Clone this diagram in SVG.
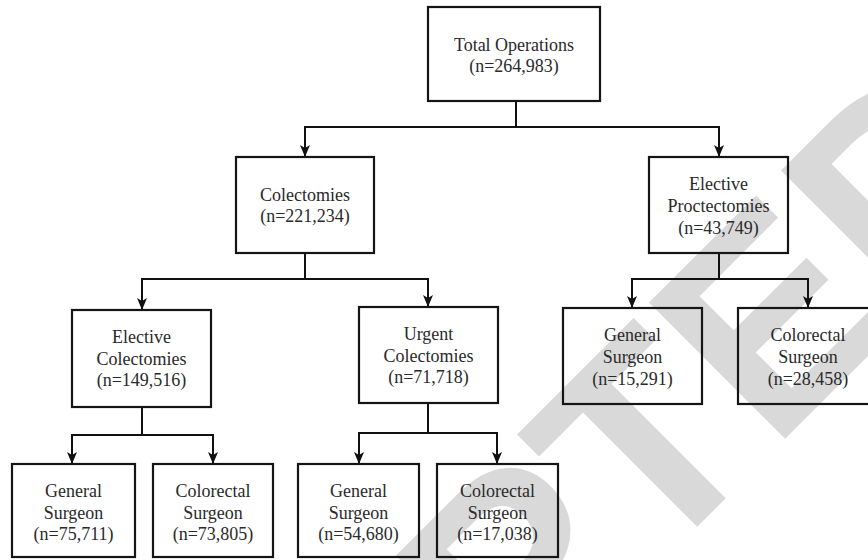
<svg xmlns="http://www.w3.org/2000/svg" width="868" height="560" viewBox="0 0 868 560">
  <defs>
    <marker id="arr" markerUnits="userSpaceOnUse" markerWidth="12" markerHeight="10" viewBox="0 0 12 10" refX="11" refY="5" orient="auto">
      <path d="M0,0 L12,5 L0,10 L3,5 z" fill="#111"/>
    </marker>
  </defs>
  <style>
    .box { fill: none; stroke: #151515; stroke-width: 2.2; }
    .lbl { font-family: "Liberation Serif", "Times New Roman", serif; font-size: 18px; fill: #2a2a2a; text-anchor: middle; }
    .con { fill: none; stroke: #111; stroke-width: 2; }
    .wm { font-family: "Liberation Sans", Arial, sans-serif; font-weight: bold; font-size: 280px; fill: #d9d9d9; }
  </style>
  <rect width="868" height="560" fill="#fff"/>
  <g id="watermark" transform="translate(711,513) rotate(-45)">
    <text class="wm" x="-1065" y="0">ACCEPTED</text>
  </g>
  <g id="connectors">
    <path class="con" d="M516,101 V127" stroke-width="3.5"/>
    <path class="con" d="M516,127 H305 V156" marker-end="url(#arr)"/>
    <path class="con" d="M516,127 H719 V156" marker-end="url(#arr)"/>
    <path class="con" d="M305,253 V279 H142 V309" marker-end="url(#arr)"/>
    <path class="con" d="M305,279 H428 V306" marker-end="url(#arr)"/>
    <path class="con" d="M142,407 V435 H72 V463" marker-end="url(#arr)"/>
    <path class="con" d="M142,435 H213 V463" marker-end="url(#arr)"/>
    <path class="con" d="M428,403 V433 H359 V463" marker-end="url(#arr)"/>
    <path class="con" d="M428,433 H497 V463" marker-end="url(#arr)"/>
    <path class="con" d="M719,253 V279 H632 V307" marker-end="url(#arr)"/>
    <path class="con" d="M719,279 H808 V307" marker-end="url(#arr)"/>
  </g>
  <g id="total">
    <rect class="box" x="428" y="7" width="172" height="94"/>
    <text class="lbl" x="514" y="51">Total Operations</text>
    <text class="lbl" x="514" y="72">(n=264,983)</text>
  </g>
  <g id="colectomies">
    <rect class="box" x="236" y="157" width="138" height="96"/>
    <text class="lbl" x="305" y="201">Colectomies</text>
    <text class="lbl" x="305" y="222">(n=221,234)</text>
  </g>
  <g id="proctectomies">
    <rect class="box" x="649" y="157" width="139" height="96"/>
    <text class="lbl" x="718.5" y="190">Elective</text>
    <text class="lbl" x="718.5" y="212">Proctectomies</text>
    <text class="lbl" x="718.5" y="234">(n=43,749)</text>
  </g>
  <g id="elective-colectomies">
    <rect class="box" x="72" y="310" width="139" height="97"/>
    <text class="lbl" x="141.5" y="343">Elective</text>
    <text class="lbl" x="141.5" y="365">Colectomies</text>
    <text class="lbl" x="141.5" y="386">(n=149,516)</text>
  </g>
  <g id="urgent-colectomies">
    <rect class="box" x="359" y="307" width="139" height="96"/>
    <text class="lbl" x="428.5" y="340">Urgent</text>
    <text class="lbl" x="428.5" y="362">Colectomies</text>
    <text class="lbl" x="428.5" y="383">(n=71,718)</text>
  </g>
  <g id="proct-general">
    <rect class="box" x="563" y="308" width="139" height="96"/>
    <text class="lbl" x="632.5" y="341">General</text>
    <text class="lbl" x="632.5" y="363">Surgeon</text>
    <text class="lbl" x="632.5" y="385">(n=15,291)</text>
  </g>
  <g id="proct-colorectal">
    <rect class="box" x="738" y="308" width="140" height="96"/>
    <text class="lbl" x="808" y="341">Colorectal</text>
    <text class="lbl" x="808" y="363">Surgeon</text>
    <text class="lbl" x="808" y="385">(n=28,458)</text>
  </g>
  <g id="elective-general">
    <rect class="box" x="12" y="464" width="123" height="93"/>
    <text class="lbl" x="73.5" y="497">General</text>
    <text class="lbl" x="73.5" y="519">Surgeon</text>
    <text class="lbl" x="73.5" y="540">(n=75,711)</text>
  </g>
  <g id="elective-colorectal">
    <rect class="box" x="153" y="464" width="120" height="93"/>
    <text class="lbl" x="213" y="497">Colorectal</text>
    <text class="lbl" x="213" y="519">Surgeon</text>
    <text class="lbl" x="213" y="540">(n=73,805)</text>
  </g>
  <g id="urgent-general">
    <rect class="box" x="298" y="464" width="121" height="93"/>
    <text class="lbl" x="358.5" y="497">General</text>
    <text class="lbl" x="358.5" y="519">Surgeon</text>
    <text class="lbl" x="358.5" y="540">(n=54,680)</text>
  </g>
  <g id="urgent-colorectal">
    <rect class="box" x="437" y="464" width="121" height="93"/>
    <text class="lbl" x="497.5" y="497">Colorectal</text>
    <text class="lbl" x="497.5" y="519">Surgeon</text>
    <text class="lbl" x="497.5" y="540">(n=17,038)</text>
  </g>
</svg>
